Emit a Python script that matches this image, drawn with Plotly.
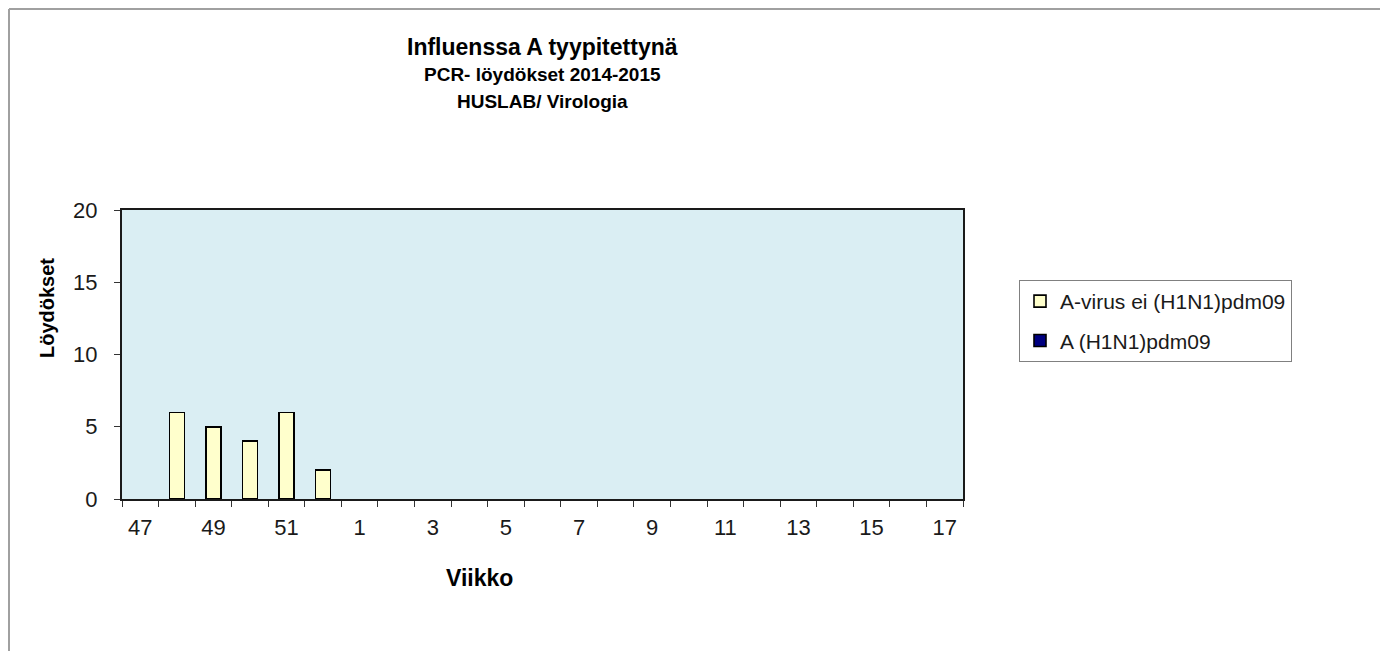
import plotly.graph_objects as go

# ---- data ----
weeks = ["47", "48", "49", "50", "51", "52", "1", "2", "3", "4", "5", "6", "7", "8",
         "9", "10", "11", "12", "13", "14", "15", "16", "17"]
a_not_h1n1 = [None, 6, 5, 4, 6, 2, None, None, None, None, None, None, None, None,
              None, None, None, None, None, None, None, None, None]
a_h1n1 = [None, 0, 0, 0, 0, 0, None, None, None, None, None, None, None, None,
          None, None, None, None, None, None, None, None, None]
tick_labels = ["47", "", "49", "", "51", "", "1", "", "3", "", "5", "", "7", "",
               "9", "", "11", "", "13", "", "15", "", "17"]
series_names = ["A-virus ei (H1N1)pdm09", "A (H1N1)pdm09"]
y_ticks = [0, 5, 10, 15, 20]

# ---- layout geometry (page pixels; page body has an 8px margin) ----
OFF = 8
W, H = 1388 - OFF, 651 - OFF
L, R, T, B = 122 - OFF, 963 - OFF, 210 - OFF, 499 - OFF
PW, PH = R - L, B - T


def px(x):
    return (x - OFF - L) / PW


def py(y):
    return (B - (y - OFF)) / PH


FONT = "Arial, Liberation Sans, sans-serif"

fig = go.Figure()
fig.add_trace(go.Bar(
    x=weeks, y=a_not_h1n1, name=series_names[0], legendgroup="g1",
    marker=dict(color="#FFFFCC", line=dict(color="#000000", width=1.6)),
))
fig.add_trace(go.Bar(
    x=weeks, y=a_h1n1, name=series_names[1], legendgroup="g2",
    marker=dict(color="#000080", line=dict(color="#000000", width=1.6)),
))

fig.update_layout(
    width=W, height=H,
    margin=dict(l=L, r=W - R, t=T, b=H - B, autoexpand=False),
    paper_bgcolor="white",
    plot_bgcolor="#DAEEF3",
    barmode="stack",
    bargap=0.59,
    font=dict(family=FONT, color="#1a1a1a"),
    showlegend=True,
    legend=dict(
        x=px(1019), y=py(280), xanchor="left", yanchor="top",
        bgcolor="white", bordercolor="#808080", borderwidth=1,
        font=dict(size=21, family=FONT, color="#1a1a1a"),
        tracegroupgap=9, traceorder="grouped", itemwidth=30,
    ),
)

fig.update_xaxes(
    type="category", categoryorder="array", categoryarray=weeks,
    tickmode="array", tickvals=weeks, ticktext=tick_labels,
    tickson="boundaries", ticks="outside", ticklen=6, tickwidth=1.2, tickcolor="#333",
    ticklabelstandoff=8,
    showline=True, linecolor="#1a1a1a", linewidth=2, mirror=True,
    showgrid=False, zeroline=False,
    tickfont=dict(size=22, family=FONT, color="#1a1a1a"),
    range=[-0.5, len(weeks) - 0.5],
)
fig.update_yaxes(
    range=[0, 20], tickmode="array", tickvals=y_ticks,
    ticks="outside", ticklen=6, tickwidth=1.2, tickcolor="#333",
    ticklabelstandoff=12,
    showline=True, linecolor="#1a1a1a", linewidth=2, mirror=True,
    showgrid=False, zeroline=False,
    tickfont=dict(size=22, family=FONT, color="#1a1a1a"),
)

annots = [
    dict(text="<b>Influenssa A tyypitettynä</b>", x=0.5, y=py(47), size=23),
    dict(text="<b>PCR- löydökset 2014-2015</b>", x=0.5, y=py(75), size=19),
    dict(text="<b>HUSLAB/ Virologia</b>", x=0.5, y=py(101), size=19),
    dict(text="<b>Viikko</b>", x=px(479), y=py(578), size=23),
]
for a in annots:
    fig.add_annotation(
        text=a["text"], x=a["x"], y=a["y"], xref="paper", yref="paper",
        xanchor="center", yanchor="middle", showarrow=False,
        font=dict(size=a["size"], family=FONT, color="#000000"),
    )
fig.add_annotation(
    text="<b>Löydökset</b>", x=px(47), y=py(308), xref="paper", yref="paper",
    xanchor="center", yanchor="middle", showarrow=False, textangle=-90,
    font=dict(size=20, family=FONT, color="#000000"),
)

# outer frame (top and left edges of the chart area)
fig.add_shape(type="line", xref="paper", yref="paper",
              x0=px(OFF + 1), x1=px(1400), y0=py(OFF + 1), y1=py(OFF + 1),
              line=dict(color="#A0A0A0", width=2))
fig.add_shape(type="line", xref="paper", yref="paper",
              x0=px(OFF + 1), x1=px(OFF + 1), y0=py(OFF + 1), y1=py(660),
              line=dict(color="#A0A0A0", width=2))

fig.write_html("out.html")
